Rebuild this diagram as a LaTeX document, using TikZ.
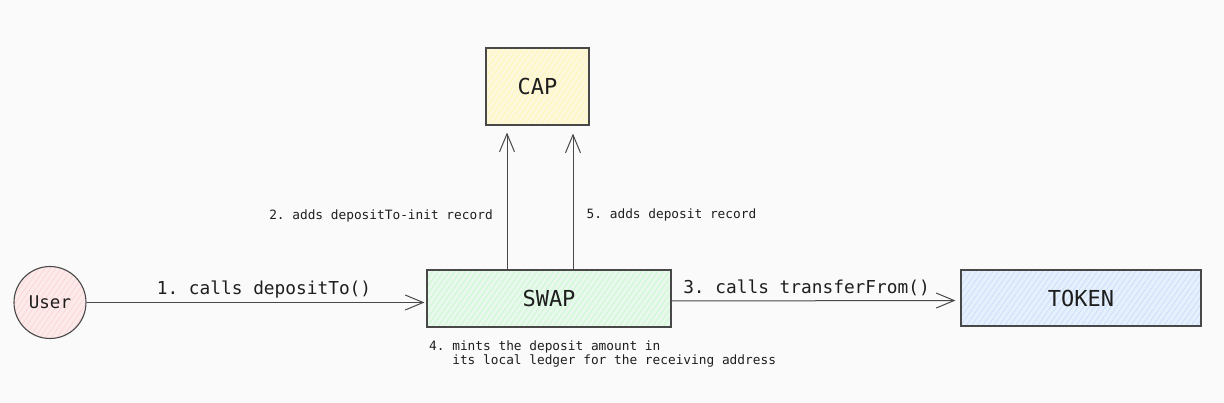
\documentclass[tikz,border=0pt]{standalone}
\usepackage{fontspec}
\setmonofont{DejaVu Sans Mono}
\usetikzlibrary{arrows.meta,patterns.meta}
\definecolor{bg}{RGB}{250,250,250}
\definecolor{ink}{RGB}{30,30,30}
\definecolor{edge}{RGB}{72,72,72}
\definecolor{capfill}{RGB}{253,247,220}
\definecolor{swapfill}{RGB}{232,248,236}
\definecolor{tokfill}{RGB}{228,241,252}
\definecolor{userfill}{RGB}{252,234,234}
\tikzset{
  box/.style={draw=edge, line width=1.1pt, inner sep=0pt, text=ink,
    font=\ttfamily\fontsize{22}{24}\selectfont},
  hatch/.style 2 args={preaction={fill=#1},
    preaction={pattern={Lines[angle=55,distance=4.5pt,line width=0.5pt]}, pattern color=#2}},
  lbl/.style={inner sep=0pt, text=ink, font=\ttfamily\fontsize{17.8}{20}\selectfont},
  small/.style={inner sep=0pt, text=ink, align=left, font=\ttfamily\fontsize{12.8}{14}\selectfont},
  arr/.style={draw=edge, line width=1pt, -{Straight Barb[length=18pt,width=15pt,line width=1pt]}}
}
\begin{document}
\begin{tikzpicture}[x=1pt,y=-1pt]
\fill[bg] (0,0) rectangle (1224,403);
\useasboundingbox (0,0) rectangle (1224,403);

\node[box, hatch={capfill}{yellow!25!capfill}, minimum width=103pt, minimum height=77pt] (cap) at (537.5,86.5) {CAP};
\node[box, hatch={swapfill}{green!18!swapfill}, minimum width=244pt, minimum height=57pt] (swap) at (549,298.5) {SWAP};
\node[box, hatch={tokfill}{blue!12!tokfill}, minimum width=240pt, minimum height=56pt] (token) at (1081,298) {TOKEN};
\node[box, circle, hatch={userfill}{red!12!userfill}, minimum size=72pt, font=\ttfamily\fontsize{17.5}{20}\selectfont] (user) at (50,302.5) {User};

\coordinate (a2) at (507,0);
\coordinate (a5) at (573,0);

\draw[arr, shorten >=2pt] (user.east) -- (swap.west |- user.east);
\draw[arr, shorten >=5pt] ([yshift=-2.5pt]swap.east) -- ([yshift=-2.5pt]token.west);
\draw[arr, shorten >=7pt] (swap.north -| a2) -- (cap.south -| a2);
\draw[arr, shorten >=8pt] (swap.north -| a5) -- (cap.south -| a5);

\node[lbl] (l1) at (264,290) {1. calls depositTo()};
\node[lbl] (l3) at (806.5,288) {3. calls transferFrom()};
\node[small] (l2) at (381,216) {2. adds depositTo-init record};
\node[small] (l5) at (671.5,215) {5. adds deposit record};
\node[small, anchor=north west] (l4) at (429,340.5) {4. mints the deposit amount in\\\phantom{4. }its local ledger for the receiving address};
\end{tikzpicture}
\end{document}
